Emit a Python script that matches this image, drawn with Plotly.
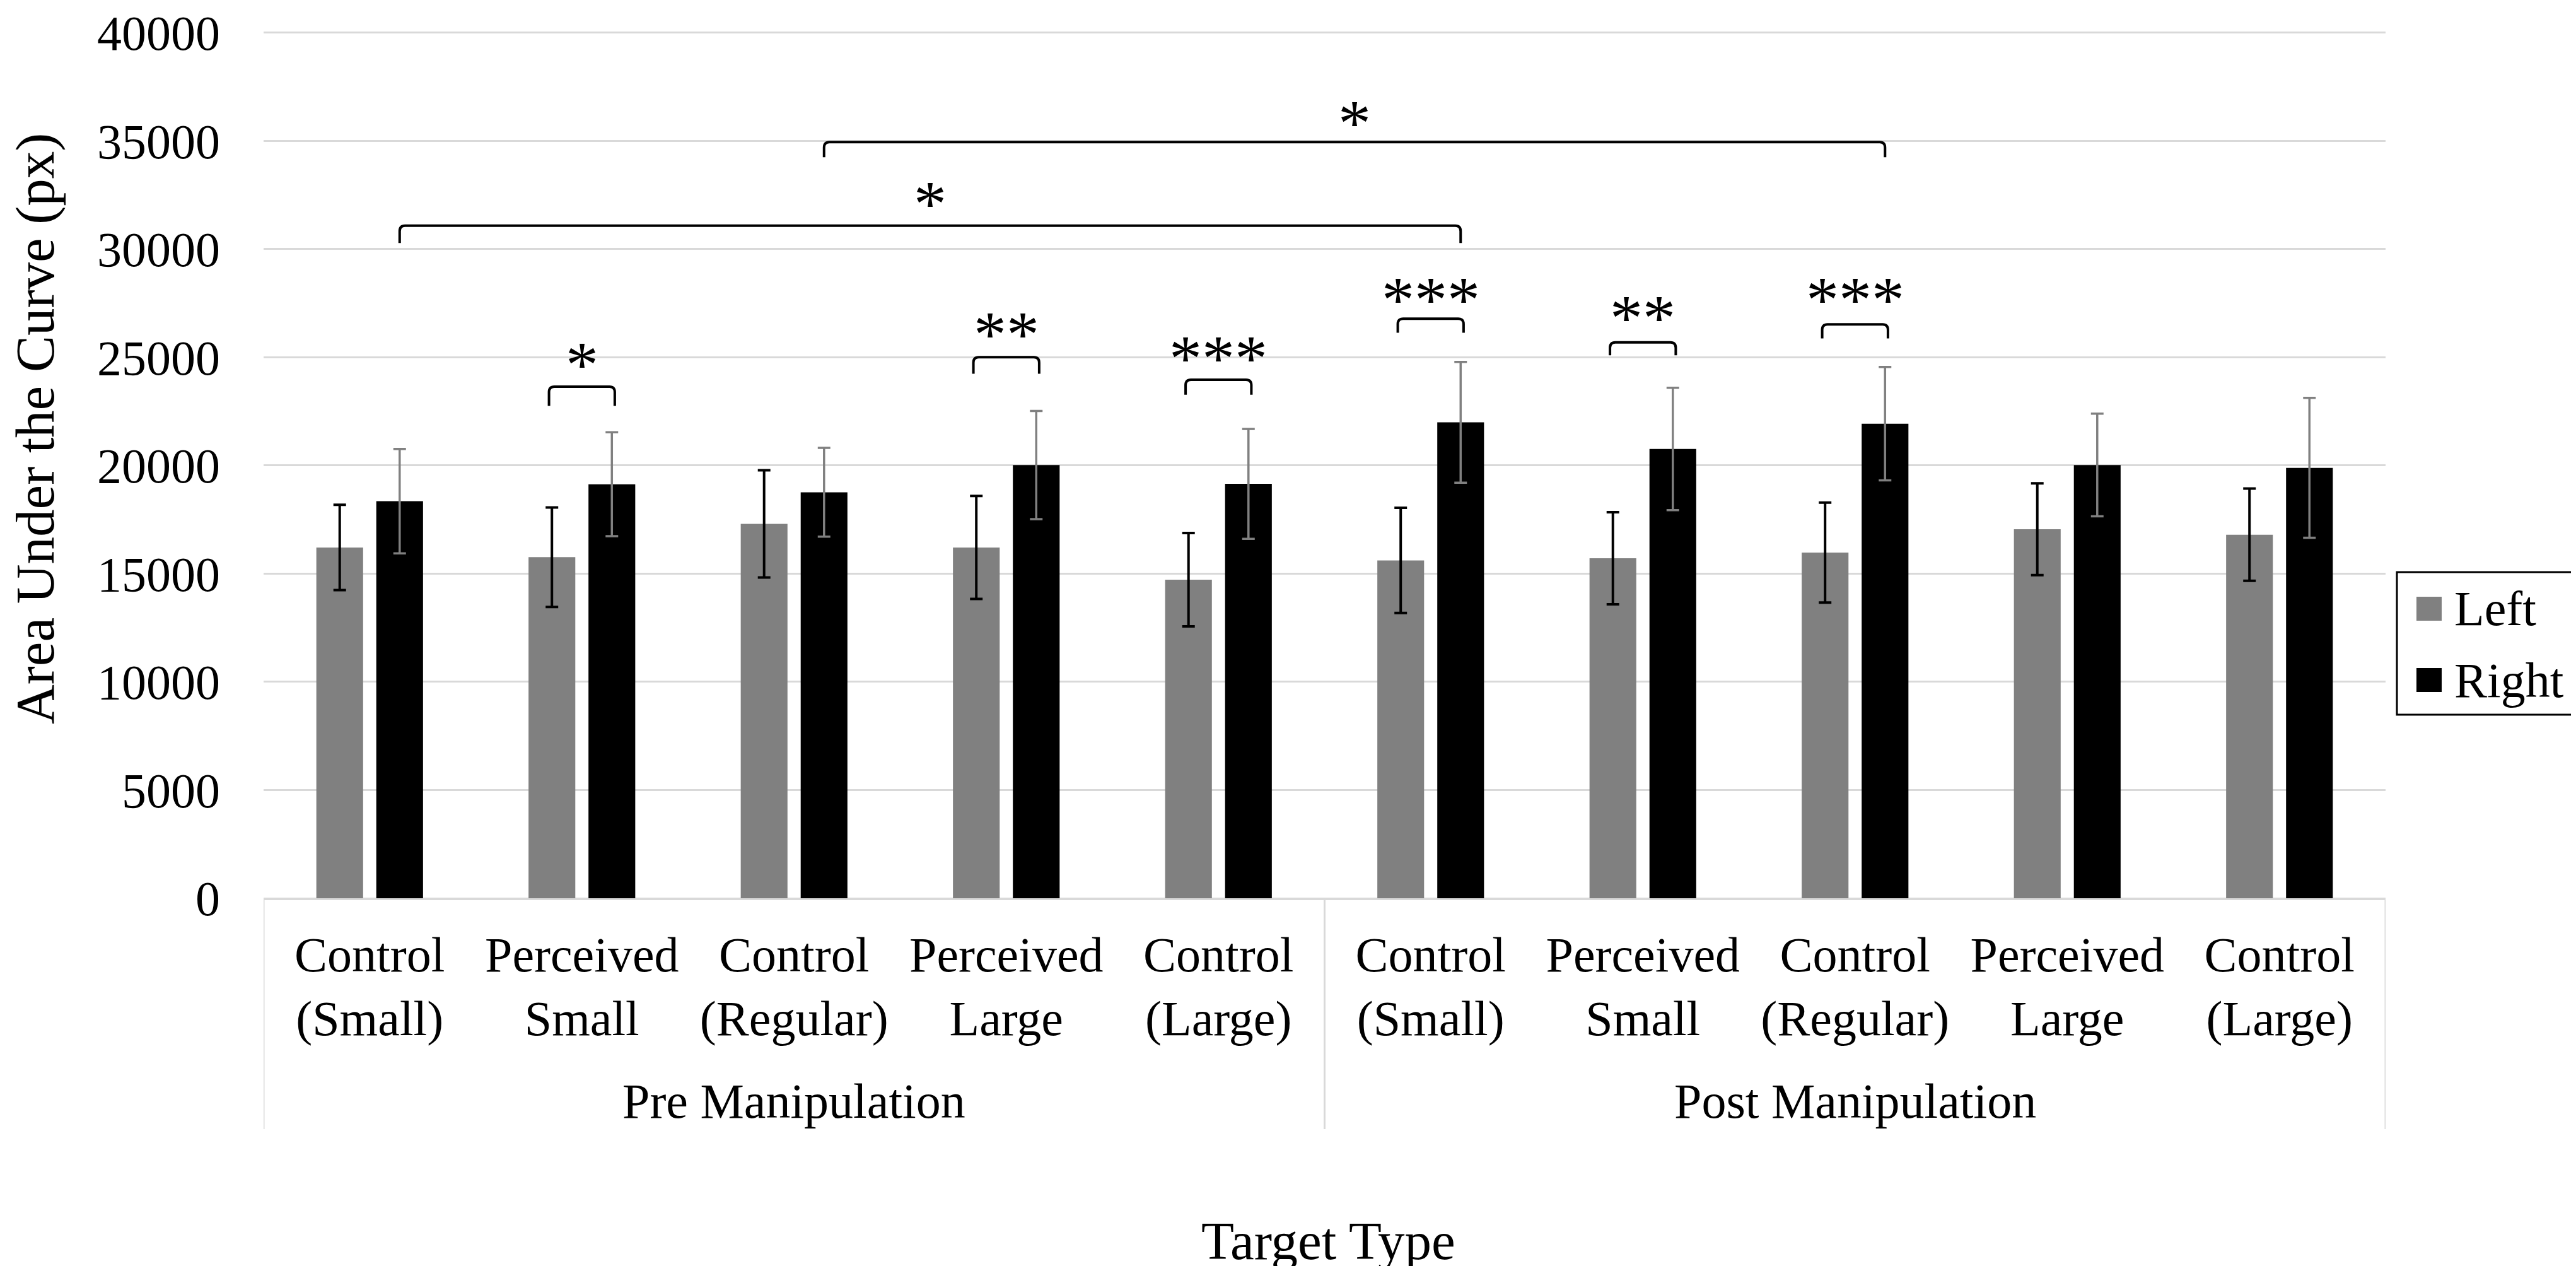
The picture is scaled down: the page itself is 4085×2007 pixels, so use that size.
import plotly.graph_objects as go

# ---------------- data ----------------
categories = ["Control<br>(Small)", "Perceived<br>Small", "Control<br>(Regular)", "Perceived<br>Large",
              "Control<br>(Large)", "Control<br>(Small)", "Perceived<br>Small", "Control<br>(Regular)",
              "Perceived<br>Large", "Control<br>(Large)"]
groups = ["Pre Manipulation", "Post Manipulation"]
group_size = 5

left_vals = [16210, 15760, 17300, 16210, 14720, 15610, 15710, 15970, 17050, 16800]
left_err = [1970, 2300, 2480, 2380, 2160, 2430, 2130, 2310, 2120, 2130]
right_vals = [18350, 19130, 18760, 20020, 19150, 21990, 20760, 21930, 20020, 19890]
right_err = [2410, 2400, 2050, 2500, 2540, 2790, 2830, 2620, 2370, 3230]

# pairwise (Left vs Right) significance brackets: category, bracket top, leg end, star centre, label
pair_idx = [1, 3, 4, 5, 6, 7]
pair_top = [23640, 25000, 23960, 26780, 25690, 26520]
pair_leg = [22750, 24240, 23270, 26130, 25090, 25870]
pair_star_y = [25100, 26520, 25410, 28100, 27270, 28100]
pair_label = ["*", "**", "***", "***", "**", "***"]

# spanning brackets (Right bar of one category to Right bar of another)
span_from = [0, 2]
span_to = [5, 7]
span_top = [31080, 34940]
span_leg = [30280, 34240]
span_star_y = [32530, 36280]
span_label = ["*", "*"]

y_ticks = [0, 5000, 10000, 15000, 20000, 25000, 30000, 35000, 40000]

# ---------------- figure ----------------
FONT = "Liberation Serif, Times New Roman, serif"
x = list(range(len(categories)))

fig = go.Figure()
fig.add_trace(go.Bar(
    name="Left", x=x, y=left_vals, marker=dict(color="#808080", line=dict(width=0)),
    error_y=dict(type="data", array=left_err, color="#000000", thickness=4, width=10),
    showlegend=False))
fig.add_trace(go.Bar(
    name="Right", x=x, y=right_vals, marker=dict(color="#000000", line=dict(width=0)),
    error_y=dict(type="data", array=right_err, color="#808080", thickness=3.5, width=10),
    showlegend=False))

W, H = 4085, 2007
SHIFT = 9  # small downward shift so the top tick label stays inside the page
ML, MR, MT, MB = 410, 310, 33 + SHIFT, 600 - SHIFT
pw = W - ML - MR
ph = H - MT - MB
bargap, bargroupgap = 0.435, 0.22
# offset of each bar centre from its category centre (in category units)
bar_off = (1 - bargap) / 4

def px_x(X):
    return (X - ML) / pw

def px_y(Y):
    return (H - MB - (Y + SHIFT)) / ph

shapes = []
annotations = []
line_style = dict(color="#000000", width=4)
STAR = dict(family=FONT, size=104, color="#000")

def bracket_path(xa, xb, top, leg):
    rx, ry = 0.025, 250
    return (f"M {xa},{leg} L {xa},{top - ry} Q {xa},{top} {xa + rx},{top} "
            f"L {xb - rx},{top} Q {xb},{top} {xb},{top - ry} L {xb},{leg}")

half_w = 0.155
for i, t, l, sy, lab in zip(pair_idx, pair_top, pair_leg, pair_star_y, pair_label):
    shapes.append(dict(type="path", xref="x", yref="y", path=bracket_path(i - half_w, i + half_w, t, l),
                       line=line_style))
    annotations.append(dict(x=i, y=sy, xref="x", yref="y", text=lab, showarrow=False,
                            yanchor="middle", yshift=-15, font=STAR))

for a, b, t, l, sy, lab in zip(span_from, span_to, span_top, span_leg, span_star_y, span_label):
    xa, xb = a + bar_off, b + bar_off
    shapes.append(dict(type="path", xref="x", yref="y", path=bracket_path(xa, xb, t, l), line=line_style))
    annotations.append(dict(x=(xa + xb) / 2, y=sy, xref="x", yref="y", text=lab, showarrow=False,
                            yanchor="middle", yshift=-15, font=STAR))

# group separators under the axis
for xs in [-0.5, group_size - 0.5, len(categories) - 0.5]:
    shapes.append(dict(type="line", xref="x", yref="paper", x0=xs, x1=xs, y0=0, y1=px_y(1773),
                       line=dict(color="#d9d9d9", width=3)))

for g, name in enumerate(groups):
    annotations.append(dict(x=g * group_size + (group_size - 1) / 2, y=px_y(1728), xref="x", yref="paper",
                            text=name, showarrow=False, yanchor="middle",
                            font=dict(family=FONT, size=78, color="#000")))

# axis titles
annotations.append(dict(x=px_x(2098), y=px_y(1950), xref="paper", yref="paper", text="Target Type",
                        showarrow=False, yanchor="middle", xanchor="center",
                        font=dict(family=FONT, size=85, color="#000")))
annotations.append(dict(x=px_x(47), y=px_y(663), xref="paper", yref="paper", text="Area Under the Curve (px)",
                        showarrow=False, textangle=-90, yanchor="middle", xanchor="center",
                        font=dict(family=FONT, size=87, color="#000")))

# legend (boxed, large square keys)
shapes.append(dict(type="rect", xref="paper", yref="paper", x0=px_x(3793), x1=px_x(4075),
                   y0=px_y(1116), y1=px_y(890), line=dict(color="#000", width=3), fillcolor="rgba(0,0,0,0)"))
for nm, col, yc in [("Left", "#808080", 948), ("Right", "#000000", 1061)]:
    shapes.append(dict(type="rect", xref="paper", yref="paper", x0=px_x(3824), x1=px_x(3864),
                       y0=px_y(yc + 19), y1=px_y(yc - 19), line=dict(width=0), fillcolor=col))
    annotations.append(dict(x=px_x(3882), y=px_y(yc), xref="paper", yref="paper", text=nm, showarrow=False,
                            xanchor="left", yanchor="middle", font=dict(family=FONT, size=78, color="#000")))

fig.update_layout(
    width=W, height=H,
    margin=dict(l=ML, r=MR, t=MT, b=MB, autoexpand=False),
    paper_bgcolor="white", plot_bgcolor="white",
    barmode="group", bargap=bargap, bargroupgap=bargroupgap,
    font=dict(family=FONT, size=78, color="#000"),
    shapes=shapes, annotations=annotations,
    showlegend=False,
)
fig.update_xaxes(range=[-0.5, len(categories) - 0.5], tickmode="array", tickvals=x, ticktext=categories,
                 showgrid=False, zeroline=False, showline=True, linecolor="#d9d9d9", linewidth=3,
                 ticks="", tickfont=dict(family=FONT, size=78, color="#000"), ticklabelstandoff=19)
fig.update_yaxes(range=[0, 40050], tickmode="array", tickvals=y_ticks, ticktext=[str(v) for v in y_ticks],
                 showgrid=True, gridcolor="#d9d9d9", gridwidth=3, zeroline=True, zerolinecolor="#d9d9d9",
                 zerolinewidth=3, showline=False, ticks="", ticklabelstandoff=68, ticklabeloverflow="allow",
                 tickfont=dict(family=FONT, size=78, color="#000"))

fig.write_html("out.html")
